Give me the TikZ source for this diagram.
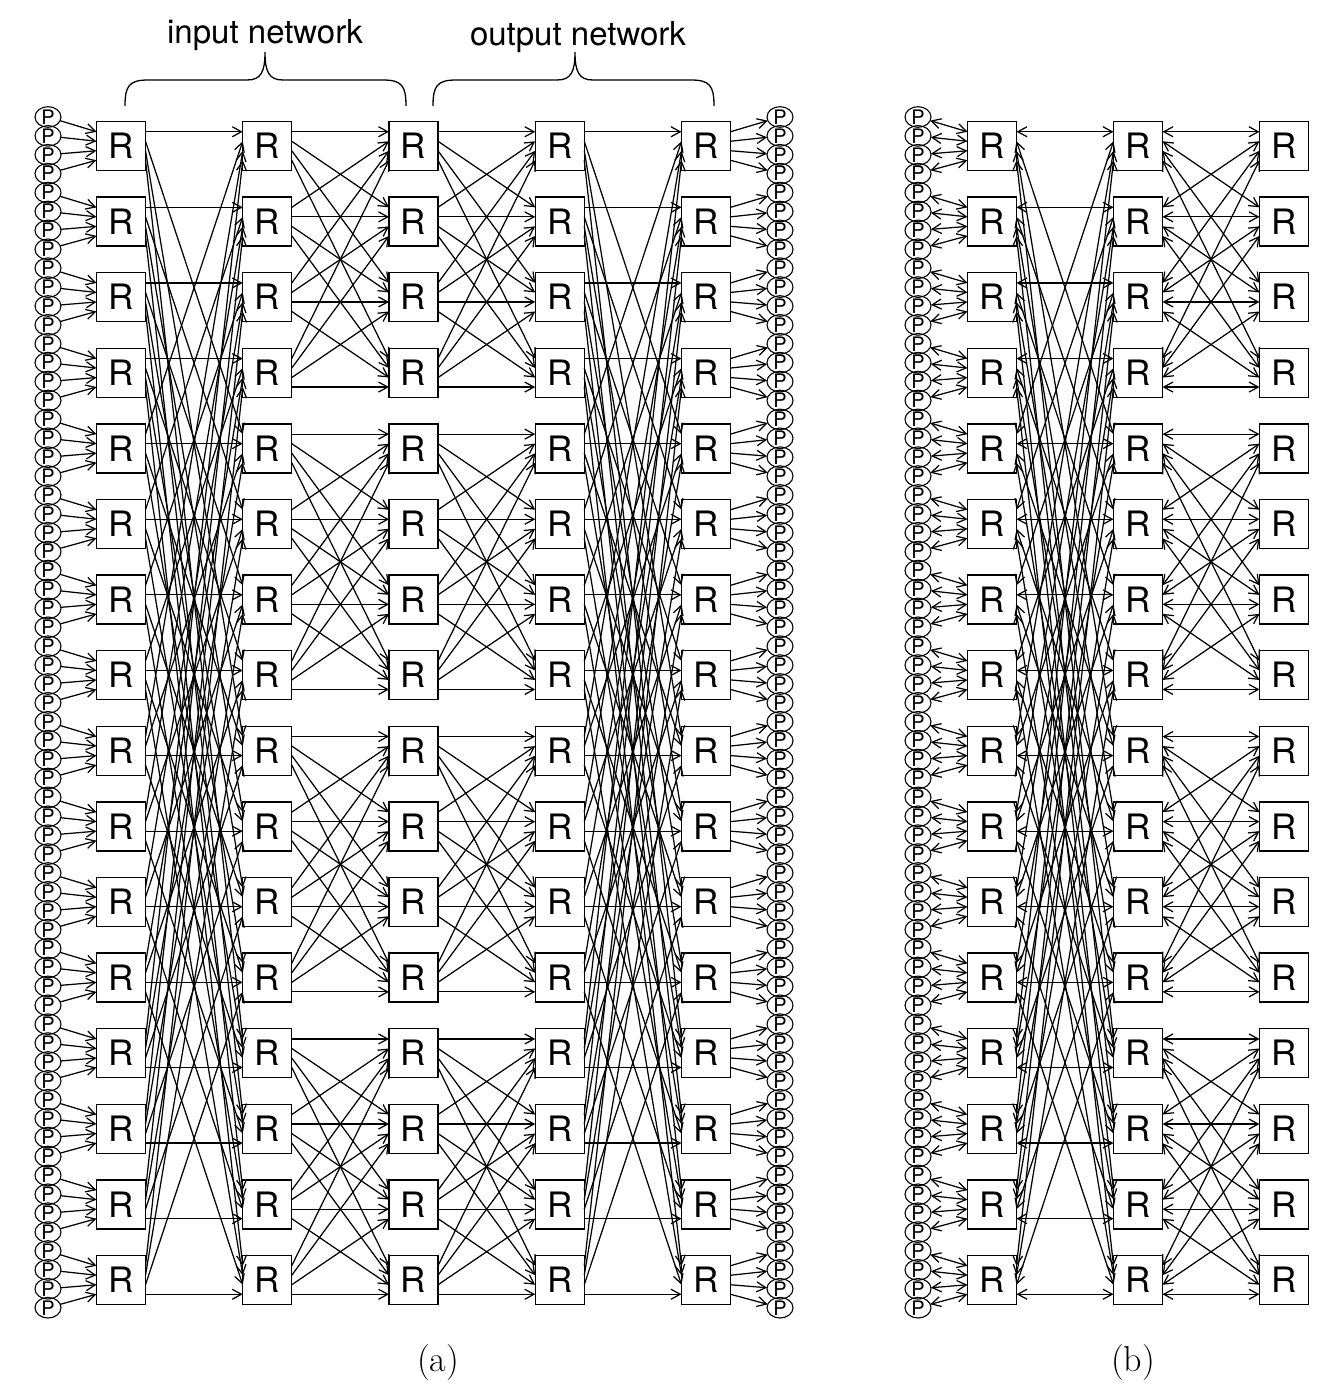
\documentclass[tikz,border=0pt]{standalone}
\usepackage{fontspec}
\newfontfamily\hv{TeX Gyre Heros}
\usetikzlibrary{arrows.meta,shapes.geometric}
\begin{document}
\begin{tikzpicture}[x=0.5pt,y=-0.5pt,
  rbox/.style={draw,line width=0.7pt,minimum width=24.5pt,minimum height=24.5pt,inner sep=0pt,outer sep=0pt,font=\hv\fontsize{17.5}{17.5}\selectfont},
  pnode/.style={draw,ellipse,line width=0.55pt,minimum width=13pt,minimum height=9.6pt,inner sep=0pt,outer sep=0pt,font=\hv\fontsize{10}{10}\selectfont},
  arr/.style={line width=0.62pt,-{Straight Barb[length=4.6pt,width=5pt]}},
  barr/.style={line width=0.62pt,{Straight Barb[length=4.6pt,width=5pt]}-{Straight Barb[length=4.6pt,width=5pt]}},
  bracestyle/.style={line width=0.65pt},
  lbl/.style={font=\hv\fontsize{16.5}{16.5}\selectfont},
  capstyle/.style={font=\fontsize{18}{18}\selectfont}
]
\useasboundingbox (0,0) rectangle (1328,1397);

% routers (a)
\foreach \c/\x in {1/121,2/267.25,3/413.5,4/559.75,5/706}{
  \foreach \i in {0,...,15}{
    \node[rbox] (a\c-\i) at (\x,{146+75.6*\i}) {R};
  }
}
% routers (b)
\foreach \c/\x in {1/992,2/1138,3/1284}{
  \foreach \i in {0,...,15}{
    \node[rbox] (b\c-\i) at (\x,{146+75.6*\i}) {R};
  }
}
% processors
\foreach \j in {0,...,63}{
  \node[pnode] (pl\j) at (48,{117+18.9*\j}) {P};
  \node[pnode] (pr\j) at (780,{117+18.9*\j}) {P};
  \node[pnode] (pb\j) at (918,{117+18.9*\j}) {P};
}

% connections
\foreach \i in {0,...,15}{
  \foreach \k in {0,...,3}{
    \pgfmathtruncatemacro\j{4*\i+\k}
    \pgfmathtruncatemacro\m{mod(\i,4)}
    \pgfmathtruncatemacro\g{floor(\i/4)}
    \pgfmathtruncatemacro\bd{4*\k+\m}
    \pgfmathtruncatemacro\ld{4*\g+\k}
    \pgfmathsetmacro\so{-(\k-1.5)*4.75}
    \pgfmathsetmacro\bo{-(\g-1.5)*4.75}
    \pgfmathsetmacro\lo{-(\m-1.5)*4.75}
    % (a)
    \draw[arr] (pl\j) -- ([yshift=\so pt]a1-\i.west);
    \draw[arr] ([yshift=\so pt]a1-\i.east) -- ([yshift=\bo pt]a2-\bd.west);
    \draw[arr] ([yshift=\so pt]a2-\i.east) -- ([yshift=\lo pt]a3-\ld.west);
    \draw[arr] ([yshift=\so pt]a3-\i.east) -- ([yshift=\lo pt]a4-\ld.west);
    \draw[arr] ([yshift=\so pt]a4-\i.east) -- ([yshift=\bo pt]a5-\bd.west);
    \draw[arr] ([yshift=\so pt]a5-\i.east) -- (pr\j);
    % (b)
    \draw[barr] (pb\j) -- ([yshift=\so pt]b1-\i.west);
    \draw[barr] ([yshift=\so pt]b1-\i.east) -- ([yshift=\bo pt]b2-\bd.west);
    \draw[barr] ([yshift=\so pt]b2-\i.east) -- ([yshift=\lo pt]b3-\ld.west);
  }
}

% braces
\draw[bracestyle] (125,106) .. controls (125,86) and (129,80) .. (148,80) -- (247,80)
  .. controls (261,80) and (265,72) .. (265,52)
  .. controls (265,72) and (269,80) .. (283,80) -- (383,80)
  .. controls (402,80) and (406,86) .. (406,106);
\draw[bracestyle] (433,106) .. controls (433,86) and (437,80) .. (456,80) -- (557,80)
  .. controls (571,80) and (575,72) .. (575,52)
  .. controls (575,72) and (579,80) .. (593,80) -- (691,80)
  .. controls (710,80) and (714,86) .. (714,106);

\node[lbl] (lin) at (265,35) {input network};
\node[lbl] (lout) at (578,37) {output network};
\node[capstyle] (capa) at (438,1362) {(a)};
\node[capstyle] (capb) at (1133,1362) {(b)};
\end{tikzpicture}
\end{document}
